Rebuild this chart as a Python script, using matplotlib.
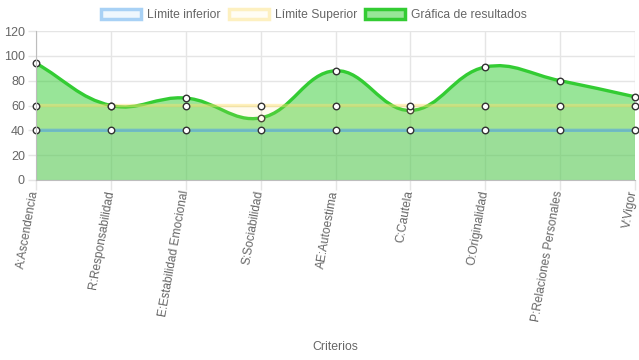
import numpy as np
import matplotlib
matplotlib.use("Agg")
import matplotlib.pyplot as plt
import matplotlib.transforms as mtransforms
from matplotlib.path import Path
from matplotlib.patches import PathPatch, Patch

plt.rcParams["font.family"] = ["Liberation Sans", "DejaVu Sans"]

criterios = [
    "A:Ascendencia",
    "R:Responsabilidad",
    "E:Estabilidad Emocional",
    "S:Sociabilidad",
    "AE:Autoestima",
    "C:Cautela",
    "O:Originalidad",
    "P:Relaciones Personales",
    "V:Vigor",
]
limite_inferior = [40, 40, 40, 40, 40, 40, 40, 40, 40]
limite_superior = [60, 60, 60, 60, 60, 60, 60, 60, 60]
resultados = [94, 60, 66, 50, 88, 56, 91, 80, 67]

GRID = "#e5e5e5"
TEXT = "#666666"


def spline_verts(ax, xs, ys, tension=0.4):
    """Chart.js style cubic spline (computed in pixel space)."""
    pts = ax.transData.transform(np.column_stack([xs, ys]).astype(float))
    n = len(pts)
    cps = []
    for i in range(n):
        prev = pts[max(i - 1, 0)]
        cur = pts[i]
        nxt = pts[min(i + 1, n - 1)]
        d01 = np.hypot(*(cur - prev))
        d12 = np.hypot(*(nxt - cur))
        tot = d01 + d12
        s01 = d01 / tot if tot else 0
        s12 = d12 / tot if tot else 0
        cps.append((cur - tension * s01 * (nxt - prev), cur + tension * s12 * (nxt - prev)))
    verts = [pts[0]]
    codes = [Path.MOVETO]
    for i in range(1, n):
        verts += [cps[i - 1][1], cps[i][0], pts[i]]
        codes += [Path.CURVE4] * 3
    verts = ax.transData.inverted().transform(np.array(verts))
    return verts, codes


fig = plt.figure(figsize=(6.39, 3.6), dpi=100)
ax = fig.add_axes([36 / 639, 180 / 360, 599 / 639, 149 / 360])
x = np.arange(len(criterios))
ax.set_xlim(0, len(criterios) - 1)
ax.set_ylim(0, 120)

datasets = [
    (resultados, "#33cc33", (50 / 255, 205 / 255, 50 / 255, 0.5)),
    (limite_superior, (255 / 255, 225 / 255, 110 / 255, 0.45), (255 / 255, 225 / 255, 110 / 255, 0.12)),
    (limite_inferior, (80 / 255, 160 / 255, 235 / 255, 0.55), (54 / 255, 162 / 255, 235 / 255, 0.08)),
]

z = 2
for vals, line_c, fill_c in datasets:
    verts, codes = spline_verts(ax, x, vals)
    fill_verts = np.vstack([verts, [[x[-1], 0], [x[0], 0], verts[0]]])
    fill_codes = codes + [Path.LINETO, Path.LINETO, Path.CLOSEPOLY]
    ax.add_patch(PathPatch(Path(fill_verts, fill_codes), facecolor=fill_c, edgecolor="none", zorder=z))
    ax.add_patch(PathPatch(Path(verts, codes), facecolor="none", edgecolor=line_c, lw=2.4, zorder=z + 0.1,
                           capstyle="round"))
    ax.scatter(x, vals, s=22, facecolor="white", edgecolor="#333333", linewidths=1.0, zorder=z + 0.2,
               clip_on=False)
    z += 1

ax.set_yticks(range(0, 121, 20))
ax.set_xticks(x)
ax.set_xticklabels(criterios, rotation=80, ha="right", va="baseline", rotation_mode="anchor", fontsize=8.6)
ax.tick_params(axis="both", colors=GRID, labelcolor=TEXT, labelsize=9, length=6, width=1)
ax.tick_params(axis="x", length=7, pad=1, labelsize=8.6)
ax.tick_params(axis="y", pad=2)
shift = mtransforms.ScaledTranslation(2 / 100, 0, fig.dpi_scale_trans)
for lbl in ax.get_xticklabels():
    lbl.set_transform(lbl.get_transform() + shift)
ax.grid(True, color=GRID, lw=1)
ax.set_axisbelow(True)
for s in ["top", "right"]:
    ax.spines[s].set_visible(False)
for s in ["left", "bottom"]:
    ax.spines[s].set_color("#bdbdbd")
    ax.spines[s].set_zorder(10)
ax.set_xlabel("Criterios", color=TEXT, fontsize=8.8)
ax.xaxis.set_label_coords(0.5, -161 / 149)

handles = [
    Patch(facecolor=(54 / 255, 162 / 255, 235 / 255, 0.08), edgecolor="#a8d1f5", lw=2.5, label="Límite inferior"),
    Patch(facecolor=(255 / 255, 230 / 255, 120 / 255, 0.08), edgecolor="#fdf0c0", lw=2.5, label="Límite Superior"),
    Patch(facecolor="#98e698", edgecolor="#33cc33", lw=2.5, label="Gráfica de resultados"),
]
leg = fig.legend(handles=handles, loc="center", bbox_to_anchor=(314 / 639, 1 - 15 / 360), ncol=3,
                 frameon=False, fontsize=8.7, handlelength=3.3, handleheight=0.95, handletextpad=0.5,
                 columnspacing=0.7, borderpad=0)
for t in leg.get_texts():
    t.set_color(TEXT)

fig.savefig("out.png", dpi=100)
